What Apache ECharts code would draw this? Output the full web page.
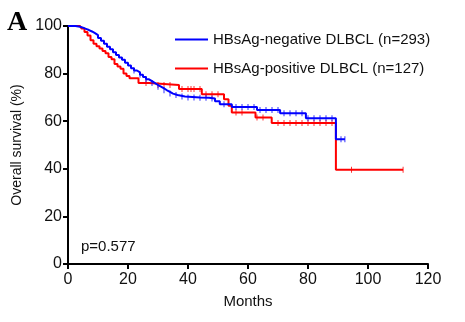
<!DOCTYPE html>
<html><head><meta charset="utf-8">
<script src="https://cdn.jsdelivr.net/npm/echarts@6/dist/echarts.min.js"></script>
<style>html,body{margin:0;padding:0;background:#fff}#c{width:465px;height:322px}</style>
</head><body><div id="c"></div>
<script>
const xTicks = [0,20,40,60,80,100,120];
const yTicks = [0,20,40,60,80,100];
const negTimes = [0,2.5,4,5,6,7,8,9,10,11,12,13,14,15,16,17,18,19,20,21,22,23,24,25,26,27,28,29,30,31,32,33,34,35,36.5,39,44,47,49,50.6,54.6,63,70.7,79.3,89.3,92.3];
const negSurv  = [100,99.7,99.3,98.8,98.3,97.7,97,96.2,95,93.8,92.5,91.3,90.2,89,87.8,86.8,85.8,84.6,83.4,82.3,81.3,80.5,79.5,78.6,77.6,76.8,76,75.2,74.5,73.8,73,72.3,71.6,71,70.4,70,69.9,69.5,68.4,67.1,66,64.7,63.3,61.2,52.4,52.4];
const posTimes = [0,4,4.5,5.5,6.5,7.5,8.5,9.5,10.5,11.5,12.5,13.5,14.5,15.5,16.5,17.5,18.5,19.5,20.5,23.5,27,37,44.6,52,53.5,54.6,62.5,67.9,89.3,111.7];
const posSurv  = [100,100,99,97.5,96,94,92.5,91.5,90.5,89.5,88.5,87,86,84,83,82,80,79,78,76,75.2,73.5,71.3,69.2,66.5,63.7,61.6,59.2,39.6,39.6];
const negCens = [22,24,26,28,30,32,34,36,38,40,42,44,46,48,52,56,58,60,62,64,66,68,70,72,74,76,78,80,82,84,86,88,91,92.3];
const posCens = [26,30,32,34,38,40,41,42,44,46,48,50,56,58,63,65,70,72,74,76,78,80,82,84,86,88,94.5,111.7];
const seriesNames = ['HBsAg-negative DLBCL (n=293)','HBsAg-positive DLBCL (n=127)'];

function survAt(times, surv, t){ let v = surv[0]; for(let i=0;i<times.length;i++){ if(times[i]<=t) v=surv[i]; } return v; }
const pairs = (a,b)=>a.map((t,i)=>[t,b[i]]);
const censPts = (c,times,surv)=>c.map(t=>[t, survAt(times,surv,t)]);

const chart = echarts.init(document.getElementById('c'));
const F = 'Liberation Sans, Arial, sans-serif';
chart.setOption({
  animation:false,
  grid:{left:68,right:37,top:26,bottom:58},
  legend:{
    data:seriesNames, orient:'vertical', left:170, top:27, itemGap:14,
    itemWidth:33, itemHeight:2, icon:'rect',
    textStyle:{fontFamily:F,fontSize:15,color:'#111'}
  },
  xAxis:{type:'value',min:0,max:120,interval:20,
    name:'Months',nameLocation:'middle',nameGap:30,nameTextStyle:{fontFamily:F,fontSize:15,color:'#111'},
    axisLine:{lineStyle:{color:'#000',width:2}},axisTick:{show:true,length:5,lineStyle:{color:'#000',width:2}},
    axisLabel:{fontFamily:F,fontSize:16,color:'#111',margin:8},splitLine:{show:false}},
  yAxis:{type:'value',min:0,max:100,interval:20,
    name:'Overall survival (%)',nameLocation:'middle',nameGap:31,nameTextStyle:{fontFamily:F,fontSize:14,color:'#111'},
    axisLine:{show:true,lineStyle:{color:'#000',width:2}},axisTick:{show:true,length:5,lineStyle:{color:'#000',width:2}},
    axisLabel:{fontFamily:F,fontSize:16,color:'#111',margin:6},splitLine:{show:false}},
  graphic:[
    {type:'text',left:7,top:9,style:{text:'A',font:'bold 28px "Liberation Serif", "Times New Roman", serif',fill:'#000'}},
    {type:'text',left:81,top:239,style:{text:'p=0.577',font:'15px "Liberation Sans", Arial, sans-serif',fill:'#111'}}
  ],
  series:[
    {name:seriesNames[0],type:'line',step:'end',showSymbol:false,data:pairs(negTimes,negSurv),
     lineStyle:{color:'#0000ff',width:2},itemStyle:{color:'#0000ff'},z:3},
    {name:seriesNames[1],type:'line',step:'end',showSymbol:false,data:pairs(posTimes,posSurv),
     lineStyle:{color:'#ff0000',width:2},itemStyle:{color:'#ff0000'},z:2},
    {type:'scatter',data:censPts(negCens,negTimes,negSurv),symbol:'rect',symbolSize:[1,6],
     itemStyle:{color:'#0000ff'},z:3,silent:true},
    {type:'scatter',data:censPts(posCens,posTimes,posSurv),symbol:'rect',symbolSize:[1,6],
     itemStyle:{color:'#ff0000'},z:2,silent:true}
  ]
});
</script></body></html>
